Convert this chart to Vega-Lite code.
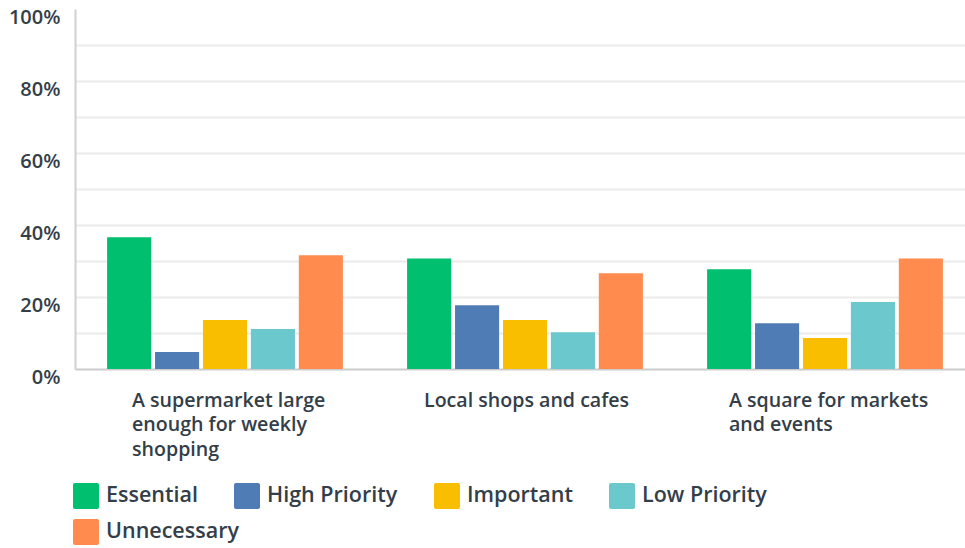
{
  "$schema": "https://vega.github.io/schema/vega-lite/v6.json",
  "width": 890,
  "height": 360,
  "autosize": "none",
  "padding": {"left": 75, "top": 9, "right": 0, "bottom": 179},
  "background": "white",
  "config": {
    "view": {"stroke": null},
    "font": "Open Sans",
    "axis": {"labelFont": "Open Sans", "labelColor": "#333e48", "labelFontWeight": 600},
    "legend": {"labelFont": "Open Sans"}
  },
  "data": {
    "values": [
      {"item": "A supermarket large enough for weekly shopping", "rating": "Essential", "pct": 36.6},
      {"item": "A supermarket large enough for weekly shopping", "rating": "High Priority", "pct": 4.7},
      {"item": "A supermarket large enough for weekly shopping", "rating": "Important", "pct": 13.6},
      {"item": "A supermarket large enough for weekly shopping", "rating": "Low Priority", "pct": 11.1},
      {"item": "A supermarket large enough for weekly shopping", "rating": "Unnecessary", "pct": 31.6},
      {"item": "Local shops and cafes", "rating": "Essential", "pct": 30.7},
      {"item": "Local shops and cafes", "rating": "High Priority", "pct": 17.7},
      {"item": "Local shops and cafes", "rating": "Important", "pct": 13.6},
      {"item": "Local shops and cafes", "rating": "Low Priority", "pct": 10.2},
      {"item": "Local shops and cafes", "rating": "Unnecessary", "pct": 26.6},
      {"item": "A square for markets and events", "rating": "Essential", "pct": 27.7},
      {"item": "A square for markets and events", "rating": "High Priority", "pct": 12.7},
      {"item": "A square for markets and events", "rating": "Important", "pct": 8.6},
      {"item": "A square for markets and events", "rating": "Low Priority", "pct": 18.6},
      {"item": "A square for markets and events", "rating": "Unnecessary", "pct": 30.7}
    ]
  },
  "mark": {"type": "bar", "clip": false, "strokeWidth": 0},
  "encoding": {
    "x": {
      "field": "item",
      "type": "nominal",
      "sort": null,
      "scale": {"range": [0, 900], "paddingInner": 0, "paddingOuter": 0},
      "axis": {
        "title": null,
        "labelAngle": 0,
        "labelAlign": "left",
        "labelBaseline": "top",
        "labelOffset": {"condition": [
          {"test": "datum.value == 'Local shops and cafes'", "value": -101},
          {"test": "datum.value == 'A square for markets and events'", "value": -96}
        ], "value": -93},
        "labelPadding": 22,
        "labelFontSize": 19.6,
        "labelLineHeight": 24.5,
        "labelLimit": 400,
        "labelOverlap": false,
        "ticks": false,
        "domain": true,
        "domainColor": "#cccccc",
        "domainWidth": 2,
        "labelExpr": "datum.value == 'A supermarket large enough for weekly shopping' ? ['A supermarket large', 'enough for weekly', 'shopping'] : datum.value == 'A square for markets and events' ? ['A square for markets', 'and events'] : datum.value"
      }
    },
    "xOffset": {
      "field": "rating",
      "type": "nominal",
      "sort": ["Essential", "High Priority", "Important", "Low Priority", "Unnecessary"],
      "scale": {"paddingInner": 0.08, "paddingOuter": 0.67}
    },
    "y": {
      "field": "pct",
      "type": "quantitative",
      "scale": {"domain": [0, 100], "nice": false},
      "axis": {
        "title": null,
        "values": [0, 10, 20, 30, 40, 50, 60, 70, 80, 90, 100],
        "labelExpr": "datum.value % 20 == 0 ? datum.value + '%' : ''",
        "labelFontSize": 20,
        "labelPadding": 15,
        "labelOffset": 8,
        "ticks": false,
        "domain": true,
        "domainColor": "#d0d0d0",
        "domainWidth": 2,
        "grid": true,
        "gridColor": "#ebebeb",
        "gridWidth": 2,
        "gridOpacity": {"condition": {"test": "datum.value == 0 || datum.value == 100", "value": 0}, "value": 1}
      }
    },
    "fill": {
      "field": "rating",
      "type": "nominal",
      "scale": {
        "domain": ["Essential", "High Priority", "Important", "Low Priority", "Unnecessary"],
        "range": ["#00bf6f", "#507cb6", "#f9be00", "#6bc8cd", "#ff8b4f"]
      },
      "legend": {
        "title": null,
        "orient": "none",
        "legendX": -2,
        "legendY": 474,
        "direction": "horizontal",
        "values": ["Essential", "High Priority", "Important", "Low Priority"],
        "columns": 4,
        "columnPadding": 36,
        "symbolType": "M-0.85,-1H0.85Q1,-1,1,-0.85V0.85Q1,1,0.85,1H-0.85Q-1,1,-1,0.85V-0.85Q-1,-1,-0.85,-1Z",
        "symbolSize": 676,
        "symbolStrokeWidth": 0,
        "symbolOpacity": 1,
        "labelFontSize": 21.5,
        "labelFontWeight": 600,
        "labelColor": "#333e48",
        "labelOffset": 7,
        "labelLimit": 300
      }
    },
    "stroke": {
      "field": "rating",
      "type": "nominal",
      "scale": {
        "domain": ["Unnecessary", "Essential", "High Priority", "Important", "Low Priority"],
        "range": ["#ff8b4f", "#00bf6f", "#507cb6", "#f9be00", "#6bc8cd"]
      },
      "legend": {
        "title": null,
        "orient": "none",
        "legendX": -2,
        "legendY": 510,
        "direction": "horizontal",
        "values": ["Unnecessary"],
        "symbolType": "M-0.85,-1H0.85Q1,-1,1,-0.85V0.85Q1,1,0.85,1H-0.85Q-1,1,-1,0.85V-0.85Q-1,-1,-0.85,-1Z",
        "symbolSize": 676,
        "symbolStrokeWidth": 0,
        "symbolFillColor": "#ff8b4f",
        "symbolOpacity": 1,
        "labelFontSize": 21.5,
        "labelFontWeight": 600,
        "labelColor": "#333e48",
        "labelOffset": 7,
        "labelLimit": 300
      }
    }
  }
}
